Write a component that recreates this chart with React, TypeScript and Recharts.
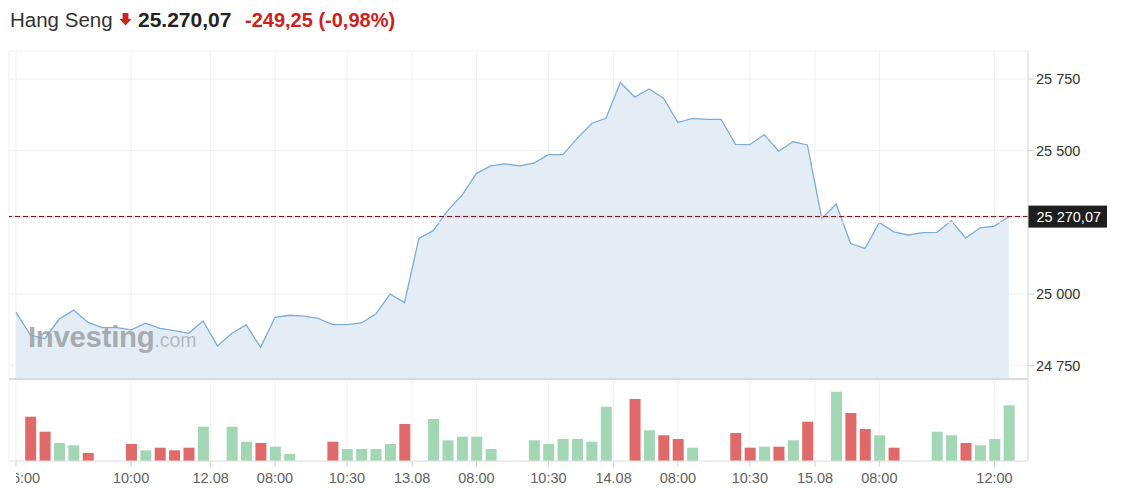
import React from 'react';
import { ComposedChart, Area, Bar, Cell, XAxis, YAxis, CartesianGrid, ReferenceLine } from 'recharts';

const FONT = '"Liberation Sans", Arial, Helvetica, sans-serif';

// Hang Seng intraday closes (one point per period)
const prices = [
  24936, 24857, 24844, 24912, 24944, 24901, 24883, 24883, 24875, 24898,
  24880, 24872, 24863, 24906, 24819, 24863, 24892, 24814, 24919, 24926,
  24923, 24915, 24893, 24893, 24899, 24930, 25000, 24970, 25194, 25221,
  25291, 25345, 25421, 25447, 25454, 25447, 25457, 25486, 25486, 25543,
  25595, 25613, 25738, 25687, 25715, 25683, 25598, 25613, 25609, 25609,
  25522, 25521, 25556, 25498, 25531, 25520, 25264, 25314, 25176, 25159,
  25250, 25217, 25206, 25214, 25215, 25256, 25195, 25231, 25237, 25270.07,
];

// Volume (relative units); null = no bar for that period
const volumes = [
  null, 44.3, 29.3, 18, 15.7, 8, null, null, 17, 10.7,
  13.3, 10.7, 13.3, 34.3, null, 34.3, 19.3, 18, 14.3, 7,
  null, null, 19.3, 12, 12, 12, 17, 37, null, 42,
  20.7, 24.3, 24.3, 12, null, null, 20.7, 17, 22, 22,
  19.3, 54.3, null, 62, 30.7, 25.7, 22, 13.3, null, null,
  28, 13.3, 14.3, 14.3, 20.7, 39.3, null, 69.3, 48, 32,
  25.7, 13.3, null, null, 29.3, 25.7, 18, 15.7, 22, 55.7,
];

// u = up (green), d = down (red)
const directions = [
  '', 'd', 'd', 'u', 'u', 'd', '', '', 'd', 'u',
  'd', 'd', 'd', 'u', '', 'u', 'u', 'd', 'u', 'u',
  '', '', 'd', 'u', 'u', 'u', 'u', 'd', '', 'u',
  'u', 'u', 'u', 'u', '', '', 'u', 'u', 'u', 'u',
  'u', 'u', '', 'd', 'u', 'd', 'd', 'u', '', '',
  'd', 'd', 'u', 'd', 'u', 'd', '', 'u', 'd', 'd',
  'u', 'd', '', '', 'u', 'u', 'd', 'u', 'u', 'u',
];

const xTickValues = [0, 8, 13.53, 18, 23, 27.53, 32, 37, 41.53, 46, 51, 55.53, 60, 68];
const xTickLabels = ['16:00', '10:00', '12.08', '08:00', '10:30', '13.08', '08:00', '10:30', '14.08', '08:00', '10:30', '15.08', '08:00', '12:00'];
const yTicks = [24750, 25000, 25500, 25750];
const lastPrice = 25270.07;

const data = prices.map((price, i) => ({ i, price, volume: volumes[i], dir: directions[i] }));

const GREEN = '#a3d6b5';
const RED = '#e06a6a';

const fmtInt = (v: number) => String(Math.round(v)).replace(/\B(?=(\d{3})+(?!\d))/g, ' ');
const fmtPrice = (v: number) => {
  const [a, b] = v.toFixed(2).split('.');
  return a.replace(/\B(?=(\d{3})+(?!\d))/g, ' ') + ',' + b;
};

const XTick = (props: any) => {
  const { x, y, payload } = props;
  const idx = xTickValues.indexOf(payload.value);
  const label = idx >= 0 ? xTickLabels[idx] : '';
  const common = { fill: '#5f5f5f', fontSize: 14.5, fontFamily: FONT, textAnchor: 'middle' as const };
  if (idx === 0) {
    return (
      <g>
        <defs>
          <clipPath id="firstTickClip">
            <rect x={x} y={y - 6} width={60} height={30} />
          </clipPath>
        </defs>
        <text x={x + 6} y={y} dy="0.71em" {...common} clipPath="url(#firstTickClip)">{label}</text>
      </g>
    );
  }
  return (
    <text x={x} y={y} dy="0.71em" {...common}>{label}</text>
  );
};

const PriceTag = (props: any) => {
  const vb = props.viewBox || {};
  const x0 = (vb.x || 0) + (vb.width || 0);
  const y0 = vb.y || 0;
  return (
    <g>
      <rect x={x0} y={y0 - 11} width={79} height={22} fill="#1e1e1e" />
      <text x={x0 + 8.5} y={y0} dominantBaseline="central" fill="#ffffff" fontSize={14.5} fontFamily={FONT}>
        {fmtPrice(lastPrice)}
      </text>
    </g>
  );
};

export default function App() {
  return (
    <div style={{ position: 'absolute', left: 0, top: 0, width: 1122, height: 488, background: '#fff' }}>
      <ComposedChart
        width={1122}
        height={488}
        data={data}
        margin={{ top: 51, right: 0, bottom: 0, left: 9 }}
      >
        <CartesianGrid yAxisId="p" stroke="#f1f1f1" strokeWidth={1} />
        <XAxis
          dataKey="i"
          type="number"
          domain={[-0.486, 70.33]}
          allowDataOverflow
          ticks={xTickValues}
          interval={0}
          tick={<XTick />}
          tickSize={6}
          tickMargin={6}
          height={27}
          axisLine={{ stroke: '#e2e2e2' }}
          tickLine={{ stroke: '#d0d0d0' }}
        />
        <YAxis
          yAxisId="p"
          orientation="right"
          domain={[24417.6, 25847.7]}
          allowDataOverflow
          ticks={yTicks}
          interval={0}
          width={94}
          tickSize={6}
          tickFormatter={fmtInt}
          tick={{ fill: '#333', fontSize: 14.5, fontFamily: FONT }}
          axisLine={{ stroke: '#dedede' }}
          tickLine={{ stroke: '#cfcfcf' }}
        />
        <YAxis yAxisId="v" orientation="right" hide domain={[0, 410]} allowDataOverflow />
        <ReferenceLine yAxisId="p" y={25250} stroke="#f1f1f1" />
        <Area
          yAxisId="p"
          type="linear"
          dataKey="price"
          stroke="#7eadd4"
          strokeWidth={1.3}
          fill="#e4edf6"
          fillOpacity={1}
          baseValue={24704}
          dot={false}
          activeDot={false}
          isAnimationActive={false}
        />
        <ReferenceLine yAxisId="p" y={24704} stroke="#d8dbde" strokeWidth={2} />
        <ReferenceLine yAxisId="p" y={lastPrice} stroke="#f4c2c2" strokeWidth={1.5} />
        <ReferenceLine
          yAxisId="p"
          y={lastPrice}
          stroke="#4a1c1c"
          strokeWidth={1}
          strokeDasharray="5 3"
          label={<PriceTag />}
        />
        <Bar yAxisId="v" dataKey="volume" barSize={11} isAnimationActive={false}>
          {data.map((d, i) => (
            <Cell key={i} fill={d.dir === 'u' ? GREEN : RED} />
          ))}
        </Bar>
      </ComposedChart>
      <svg
        width={1122}
        height={488}
        style={{ position: 'absolute', left: 0, top: 0, pointerEvents: 'none' }}
      >
        <text x={10} y={26.7} fontSize={20.5} fill="#333" fontFamily={FONT}>Hang Seng</text>
        <path d="M122.6 13 H128.4 V19 H131.5 L125.5 25.5 L119.5 19 H122.6 Z" fill="#d0201c" />
        <text x={138} y={26.7} fontSize={21} fontWeight="bold" fill="#222" fontFamily={FONT}>25.270,07</text>
        <text x={245} y={26.7} fontSize={20} fontWeight="bold" fill="#d0201c" fontFamily={FONT}>-249,25 (-0,98%)</text>
        <text x={28} y={347} fontFamily={FONT} fill="#9a9fa4" fillOpacity={0.85}>
          <tspan fontSize={29.4} fontWeight="bold" letterSpacing={-0.3}>Investing</tspan>
          <tspan fontSize={19.5} fill="#abafb3">.com</tspan>
        </text>
      </svg>
    </div>
  );
}
